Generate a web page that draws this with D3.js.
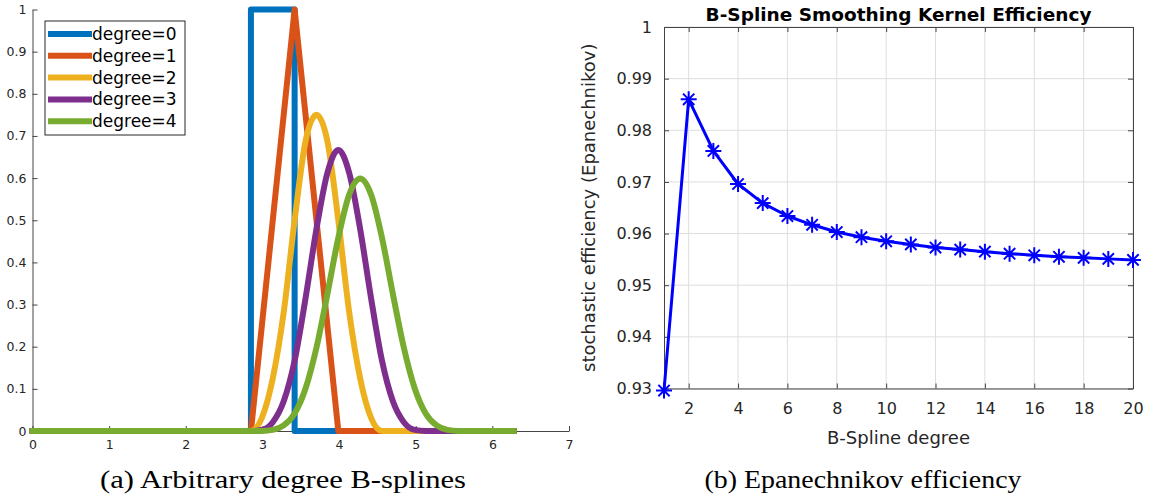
<!DOCTYPE html>
<html>
<head>
<meta charset="utf-8">
<script src="https://cdn.jsdelivr.net/npm/d3@7"></script>
<style>
  body { margin: 0; background: #fff; }
  svg { display: block; }
</style>
</head>
<body>
<svg id="chart" width="1151" height="500"></svg>
<script>
// ---------- data ----------
const splineLabels = ['degree=0', 'degree=1', 'degree=2', 'degree=3', 'degree=4'];

// [x, y] samples of each B-spline
const spline0 = [[0, 0], [2.85, 0], [2.85, 1], [3.42, 1], [3.42, 0], [6.28, 0]];
const spline1 = [[0, 0], [2.85, 0], [3.42, 1], [3.99, 0], [6.28, 0]];
const spline2 = [[0, 0], [2.85, 0], [2.9925, 0.0313], [3.135, 0.125], [3.2775, 0.2813], [3.42, 0.5],
  [3.5625, 0.6875], [3.705, 0.75], [3.8475, 0.6875], [3.99, 0.5], [4.1325, 0.2813], [4.275, 0.125],
  [4.4175, 0.0313], [4.56, 0], [6.28, 0]];
const spline3 = [[0, 0], [2.85, 0], [2.9925, 0.0026], [3.135, 0.0208], [3.2775, 0.0703], [3.42, 0.1667],
  [3.5625, 0.3151], [3.705, 0.4792], [3.8475, 0.612], [3.99, 0.6667], [4.1325, 0.612], [4.275, 0.4792],
  [4.4175, 0.3151], [4.56, 0.1667], [4.7025, 0.0703], [4.845, 0.0208], [4.9875, 0.0026], [5.13, 0], [6.28, 0]];
const spline4 = [[0, 0], [2.85, 0], [2.9925, 0.0002], [3.135, 0.0026], [3.2775, 0.0132], [3.42, 0.0417],
  [3.5625, 0.1009], [3.705, 0.1979], [3.8475, 0.3249], [3.99, 0.4583], [4.1325, 0.5609], [4.275, 0.599],
  [4.4175, 0.5609], [4.56, 0.4583], [4.7025, 0.3249], [4.845, 0.1979], [4.9875, 0.1009], [5.13, 0.0417],
  [5.2725, 0.0132], [5.415, 0.0026], [5.5575, 0.0002], [5.7, 0], [6.28, 0]];

const leftXTicks = [0, 1, 2, 3, 4, 5, 6, 7];
const leftYTicks = [0, 0.1, 0.2, 0.3, 0.4, 0.5, 0.6, 0.7, 0.8, 0.9, 1];

const effDegree = [1, 2, 3, 4, 5, 6, 7, 8, 9, 10, 11, 12, 13, 14, 15, 16, 17, 18, 19, 20];
const effValue = [0.9296, 0.9860, 0.9760, 0.9696, 0.9659, 0.9634, 0.9617, 0.9603, 0.9593, 0.9585,
  0.9579, 0.9573, 0.9569, 0.9565, 0.9561, 0.9558, 0.9555, 0.9553, 0.9551, 0.9549];

const rightXTicks = [2, 4, 6, 8, 10, 12, 14, 16, 18, 20];
const rightYTicks = [0.93, 0.94, 0.95, 0.96, 0.97, 0.98, 0.99, 1];

// ---------- styles ----------
const splineColors = ['#0072BD', '#D95319', '#EDB120', '#7E2F8E', '#77AC30'];
const axisColor = '#444';
const textColor = '#262626';
const font = 'DejaVu Sans, Verdana, sans-serif';
const serif = 'Liberation Serif, Times New Roman, serif';

const svg = d3.select('#chart');

// ================= (a) B-splines =================
const xA = d3.scaleLinear().domain([0, 7]).range([32.5, 569]);
const yA = d3.scaleLinear().domain([0, 1]).range([431, 9.5]);

const left = svg.append('g').attr('class', 'left');

// axes (box off, ticks pointing inward)
left.append('g')
  .attr('transform', `translate(0, ${yA(0)})`)
  .call(d3.axisBottom(xA).tickValues(leftXTicks).tickFormat(d3.format('~g')).tickSizeInner(-5).tickSizeOuter(0).tickPadding(9))
  .call((g) => {
    g.select('.domain').attr('stroke', axisColor);
    g.selectAll('.tick line').attr('stroke', axisColor);
    g.selectAll('text').attr('font-family', font).attr('font-size', 12.5).attr('fill', textColor);
  });

left.append('g')
  .attr('transform', `translate(${xA(0)}, 0)`)
  .call(d3.axisLeft(yA).tickValues(leftYTicks).tickFormat(d3.format('~g')).tickSizeInner(-5).tickSizeOuter(0).tickPadding(6))
  .call((g) => {
    g.select('.domain').attr('stroke', axisColor);
    g.selectAll('.tick line').attr('stroke', axisColor);
    g.selectAll('text').attr('font-family', font).attr('font-size', 12.5).attr('fill', textColor);
  });

const splines = [spline0, spline1, spline2, spline3, spline4];
const straight = d3.line().x((d) => xA(d[0])).y((d) => yA(d[1]));
const smooth = d3.line().curve(d3.curveMonotoneX).x((d) => xA(d[0])).y((d) => yA(d[1]));

left.selectAll('path.spline')
  .data(splines)
  .join('path')
  .attr('class', 'spline')
  .attr('fill', 'none')
  .attr('stroke', (d, i) => splineColors[i])
  .attr('stroke-width', 6)
  .attr('stroke-linejoin', 'round')
  .attr('stroke-linecap', 'square')
  .attr('d', (d, i) => (i < 2 ? straight(d) : smooth(d)));

// legend
const legend = left.append('g').attr('class', 'legend').attr('transform', 'translate(45, 21)');
legend.append('rect')
  .attr('width', 140).attr('height', 114)
  .attr('fill', '#fff').attr('stroke', textColor).attr('stroke-width', 1);

const item = legend.selectAll('g.item')
  .data(splineLabels)
  .join('g')
  .attr('class', 'item')
  .attr('transform', (d, i) => `translate(0, ${13 + i * 21.8})`);

item.append('line')
  .attr('x1', 3).attr('x2', 47)
  .attr('stroke', (d, i) => splineColors[i])
  .attr('stroke-width', 6);

item.append('text')
  .attr('x', 47).attr('y', 6)
  .attr('font-family', font).attr('font-size', 17).attr('fill', '#000')
  .text((d) => d);

// caption
svg.append('text')
  .attr('x', 283).attr('y', 488)
  .attr('text-anchor', 'middle')
  .attr('font-family', serif).attr('font-size', 25)
  .attr('textLength', 366).attr('lengthAdjust', 'spacingAndGlyphs')
  .attr('fill', '#000')
  .text('(a) Arbitrary degree B-splines');

// ================= (b) Epanechnikov efficiency =================
const xB = d3.scaleLinear().domain([1, 20]).range([664, 1133]);
const yB = d3.scaleLinear().domain([0.93, 1]).range([388.5, 27]);

const right = svg.append('g').attr('class', 'right');

// grid
right.append('g')
  .selectAll('line.vgrid')
  .data(rightXTicks)
  .join('line')
  .attr('x1', (d) => xB(d)).attr('x2', (d) => xB(d))
  .attr('y1', yB(0.93)).attr('y2', yB(1))
  .attr('stroke', '#dedede').attr('stroke-width', 1);

right.append('g')
  .selectAll('line.hgrid')
  .data(rightYTicks)
  .join('line')
  .attr('x1', xB(1)).attr('x2', xB(20))
  .attr('y1', (d) => yB(d)).attr('y2', (d) => yB(d))
  .attr('stroke', '#dedede').attr('stroke-width', 1);

function styleAxis(g, withText) {
  g.select('.domain').attr('stroke', axisColor);
  g.selectAll('.tick line').attr('stroke', axisColor);
  if (withText) g.selectAll('text').attr('font-family', font).attr('font-size', 16).attr('fill', textColor);
  else g.selectAll('text').remove();
}

right.append('g')
  .attr('transform', `translate(0, ${yB(0.93)})`)
  .call(d3.axisBottom(xB).tickValues(rightXTicks).tickSizeInner(-5).tickSizeOuter(0).tickPadding(14))
  .call((g) => styleAxis(g, true));

right.append('g')
  .attr('transform', `translate(0, ${yB(1)})`)
  .call(d3.axisTop(xB).tickValues(rightXTicks).tickSizeInner(-5).tickSizeOuter(0))
  .call((g) => styleAxis(g, false));

right.append('g')
  .attr('transform', `translate(${xB(1)}, 0)`)
  .call(d3.axisLeft(yB).tickValues(rightYTicks).tickFormat(d3.format('~g')).tickSizeInner(-5).tickSizeOuter(0).tickPadding(12))
  .call((g) => styleAxis(g, true));

right.append('g')
  .attr('transform', `translate(${xB(20)}, 0)`)
  .call(d3.axisRight(yB).tickValues(rightYTicks).tickSizeInner(-5).tickSizeOuter(0))
  .call((g) => styleAxis(g, false));

// efficiency line
const effPoints = effDegree.map((d, i) => [d, effValue[i]]);
right.append('path')
  .datum(effPoints)
  .attr('fill', 'none')
  .attr('stroke', '#0000ff')
  .attr('stroke-width', 3)
  .attr('stroke-linejoin', 'round')
  .attr('d', d3.line().x((d) => xB(d[0])).y((d) => yB(d[1])));

// '*' markers (plus + times)
const asterisk = {
  draw(context, size) {
    const r = Math.sqrt(size) / 2;
    const q = r * Math.SQRT1_2;
    context.moveTo(-r, 0); context.lineTo(r, 0);
    context.moveTo(0, -r); context.lineTo(0, r);
    context.moveTo(-q, -q); context.lineTo(q, q);
    context.moveTo(-q, q); context.lineTo(q, -q);
  },
};

right.selectAll('path.marker')
  .data(effPoints)
  .join('path')
  .attr('class', 'marker')
  .attr('transform', (d) => `translate(${xB(d[0])}, ${yB(d[1])})`)
  .attr('d', d3.symbol(asterisk, 256))
  .attr('fill', 'none')
  .attr('stroke', '#0000ff')
  .attr('stroke-width', 2);

// titles & labels
right.append('text')
  .attr('x', (xB(1) + xB(20)) / 2).attr('y', 21)
  .attr('text-anchor', 'middle')
  .attr('font-family', font).attr('font-size', 18.5).attr('font-weight', 'bold').attr('fill', '#000')
  .text('B-Spline Smoothing Kernel Efficiency');

right.append('text')
  .attr('x', (xB(1) + xB(20)) / 2).attr('y', 444)
  .attr('text-anchor', 'middle')
  .attr('font-family', font).attr('font-size', 18).attr('fill', textColor)
  .text('B-Spline degree');

right.append('text')
  .attr('transform', `translate(595, ${(yB(0.93) + yB(1)) / 2}) rotate(-90)`)
  .attr('text-anchor', 'middle')
  .attr('font-family', font).attr('font-size', 18).attr('fill', textColor)
  .text('stochastic efficiency (Epanechnikov)');

// caption
svg.append('text')
  .attr('x', 863).attr('y', 488)
  .attr('text-anchor', 'middle')
  .attr('font-family', serif).attr('font-size', 25)
  .attr('textLength', 317).attr('lengthAdjust', 'spacingAndGlyphs')
  .attr('fill', '#000')
  .text('(b) Epanechnikov efficiency');
</script>
</body>
</html>
